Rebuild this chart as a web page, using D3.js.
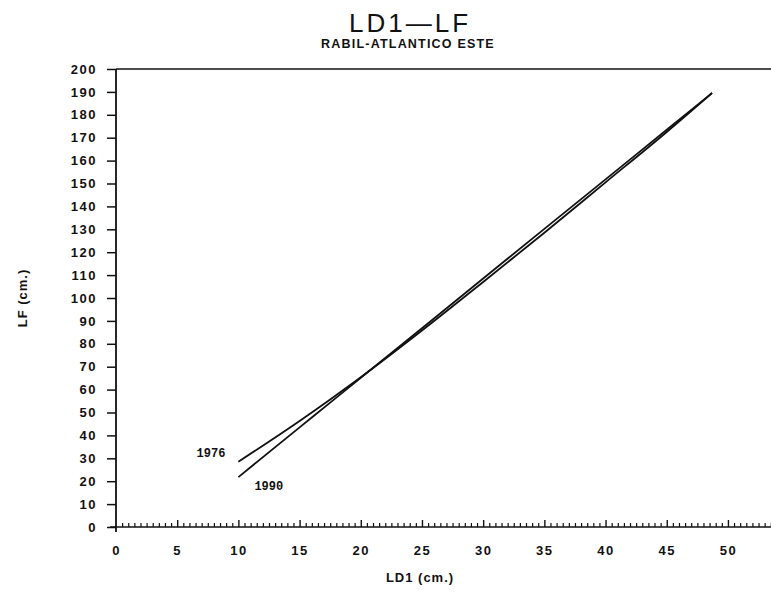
<!DOCTYPE html>
<html>
<head>
<meta charset="utf-8">
<script src="https://cdn.jsdelivr.net/npm/d3@7"></script>
<style>
  html, body { margin: 0; padding: 0; background: #fff; }
  svg { display: block; }
  text { fill: #111; }
</style>
</head>
<body>
<svg id="chart" width="771" height="592"></svg>
<script>
// ---- data ----
const titleText = "LD1—LF";
const subtitleText = "RABIL-ATLANTICO ESTE";
const xAxisTitle = "LD1 (cm.)";
const yAxisTitle = "LF (cm.)";

const xTickLabels = [0, 5, 10, 15, 20, 25, 30, 35, 40, 45, 50];
const yTickLabels = [0, 10, 20, 30, 40, 50, 60, 70, 80, 90, 100, 110, 120, 130, 140, 150, 160, 170, 180, 190, 200];

const ld1_1976 = [10, 15, 17.5, 20, 25, 30, 35, 40, 45, 48.7];
const lf_1976  = [28.5, 46.3, 55.7, 65.4, 85.8, 107.0, 128.5, 150.5, 172.5, 189.5];

const ld1_1990 = [10, 15, 17.5, 20, 25, 30, 35, 40, 45, 48.7];
const lf_1990  = [21.8, 43.5, 54.3, 65.2, 86.8, 108.5, 130.2, 151.8, 173.5, 189.5];

const seriesNames = ["1976", "1990"];

// ---- drawing ----
const svg = d3.select("#chart");
const W = 771, H = 592;
const x = d3.scaleLinear().domain([0, 53.6]).range([116, 772]);
const y = d3.scaleLinear().domain([0, 200]).range([527, 69]);

const ink = "#111";
const labelFont = "'Liberation Sans', Arial, sans-serif";

// title
svg.append("text")
  .attr("x", 410).attr("y", 32)
  .attr("text-anchor", "middle")
  .style("font-family", labelFont)
  .style("font-size", "26px")
  .style("font-weight", "300")
  .style("letter-spacing", "3px")
  .text(titleText);

svg.append("text")
  .attr("x", 408).attr("y", 48)
  .attr("text-anchor", "middle")
  .style("font-family", labelFont)
  .style("font-size", "12.5px")
  .style("font-weight", "bold")
  .style("letter-spacing", "1.2px")
  .text(subtitleText);

// top frame line at y = 200
svg.append("line")
  .attr("x1", x(0)).attr("x2", W)
  .attr("y1", y(200)).attr("y2", y(200))
  .attr("stroke", ink).attr("stroke-width", 1.6);

// y axis
const yAxis = d3.axisLeft(y).tickValues(yTickLabels).tickSize(9).tickPadding(10).tickFormat(d3.format("d"));
const gy = svg.append("g").attr("transform", `translate(${x(0)},0)`).call(yAxis);
gy.select(".domain").remove();
gy.selectAll(".tick line").attr("stroke", ink).attr("stroke-width", 1.5);
gy.selectAll(".tick text")
  .style("font-family", labelFont).style("font-size", "13px").style("font-weight", "bold")
  .style("letter-spacing", "1.5px").attr("fill", ink);
svg.append("line")
  .attr("x1", x(0)).attr("x2", x(0))
  .attr("y1", y(200)).attr("y2", y(0) + 5)
  .attr("stroke", ink).attr("stroke-width", 1.8);

// x axis: baseline, minor ticks (every 0.5) and major ticks (every 5) pointing up
svg.append("line")
  .attr("x1", x(0) - 6).attr("x2", W)
  .attr("y1", y(0)).attr("y2", y(0))
  .attr("stroke", ink).attr("stroke-width", 1.6);

const minorVals = d3.range(0.5, 53.6, 0.5).filter(v => v % 5 !== 0);
const gMinor = svg.append("g").attr("transform", `translate(0,${y(0)})`)
  .call(d3.axisTop(x).tickValues(minorVals).tickSize(4).tickFormat(""));
gMinor.select(".domain").remove();
gMinor.selectAll(".tick line").attr("stroke", ink).attr("stroke-width", 1.2);

const gMajor = svg.append("g").attr("transform", `translate(0,${y(0)})`)
  .call(d3.axisTop(x).tickValues(xTickLabels.filter(v => v > 0)).tickSize(7).tickFormat(""));
gMajor.select(".domain").remove();
gMajor.selectAll(".tick line").attr("stroke", ink).attr("stroke-width", 1.4);

const gx = svg.append("g").attr("transform", `translate(0,${y(0)})`)
  .call(d3.axisBottom(x).tickValues(xTickLabels).tickSize(0).tickPadding(19).tickFormat(d3.format("d")));
gx.select(".domain").remove();
gx.selectAll(".tick text")
  .style("font-family", labelFont).style("font-size", "13px").style("font-weight", "bold")
  .style("letter-spacing", "1.5px").attr("fill", ink);

// axis titles
svg.append("text")
  .attr("transform", "translate(27,298) rotate(-90)")
  .attr("text-anchor", "middle")
  .style("font-family", labelFont).style("font-size", "13px").style("font-weight", "bold")
  .style("letter-spacing", "1px")
  .text(yAxisTitle);

svg.append("text")
  .attr("x", 420).attr("y", 582)
  .attr("text-anchor", "middle")
  .style("font-family", labelFont).style("font-size", "13px").style("font-weight", "bold")
  .style("letter-spacing", "1px")
  .text(xAxisTitle);

// lines
const line = d3.line().x(d => x(d[0])).y(d => y(d[1])).curve(d3.curveMonotoneX);
const s1976 = ld1_1976.map((v, i) => [v, lf_1976[i]]);
const s1990 = ld1_1990.map((v, i) => [v, lf_1990[i]]);

[s1976, s1990].forEach(s => {
  svg.append("path").datum(s)
    .attr("d", line)
    .attr("fill", "none")
    .attr("stroke", ink)
    .attr("stroke-width", 1.8);
});

// series labels
svg.append("text")
  .attr("x", x(ld1_1976[0]) - 13).attr("y", y(lf_1976[0]) - 5)
  .attr("text-anchor", "end")
  .style("font-family", "'Liberation Mono', 'DejaVu Sans Mono', monospace")
  .style("font-size", "12px").style("font-weight", "bold")
  .text(seriesNames[0]);

svg.append("text")
  .attr("x", x(ld1_1990[0]) + 16).attr("y", y(lf_1990[0]) + 13)
  .attr("text-anchor", "start")
  .style("font-family", "'Liberation Mono', 'DejaVu Sans Mono', monospace")
  .style("font-size", "12px").style("font-weight", "bold")
  .text(seriesNames[1]);
</script>
</body>
</html>
